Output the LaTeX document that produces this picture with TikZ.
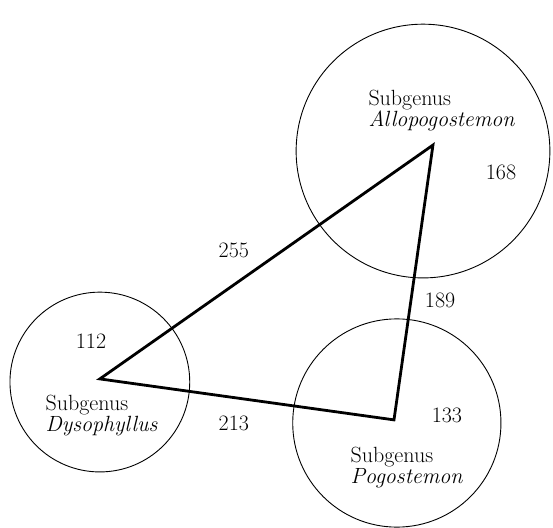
\documentclass[tikz,border=0pt]{standalone}
\usepackage{tikz}
\usetikzlibrary{positioning}
\usepackage{xcolor}

\begin{document}
\begin{tikzpicture}[every node/.style={font=\fontsize{22}{21}\selectfont},
  grp/.style={draw,circle,line width=0.9pt,inner sep=0pt},
  label/.style={align=left,anchor=west}]
\useasboundingbox (0,0) rectangle (19.44,18.56);
\node[grp,minimum size=8.92cm] (allocirc) at (14.87,13.25) {};
\node[grp,minimum size=6.32cm] (dysocirc) at (3.51,5.13) {};
\node[grp,minimum size=7.32cm] (pogocirc) at (13.95,3.69) {};
\coordinate (allo) at (15.22,13.46);
\coordinate (dyso) at (3.51,5.24);
\coordinate (pogo) at (13.85,3.80);
\draw[line width=2.8pt,line join=miter] (dyso) -- (allo) -- (pogo) -- cycle;
\node[label] (allotext) at (12.83,14.66) {Subgenus\\\textit{Allopogostemon}};
\node[label] (dysotext) at (1.48,3.94) {Subgenus\\\textit{Dysophyllus}};
\node[label] (pogotext) at (12.20,2.11) {Subgenus\\\textit{Pogostemon}};
\node (allonum) at (17.61,12.51) {168};
\node (dysonum) at (3.20,6.57) {112};
\node (pogonum) at (15.71,3.94) {133};
\node (da) at (8.22,9.74) {255};
\node (ap) at (15.47,8.01) {189};
\node (dp) at (8.22,3.66) {213};
\end{tikzpicture}
\end{document}
